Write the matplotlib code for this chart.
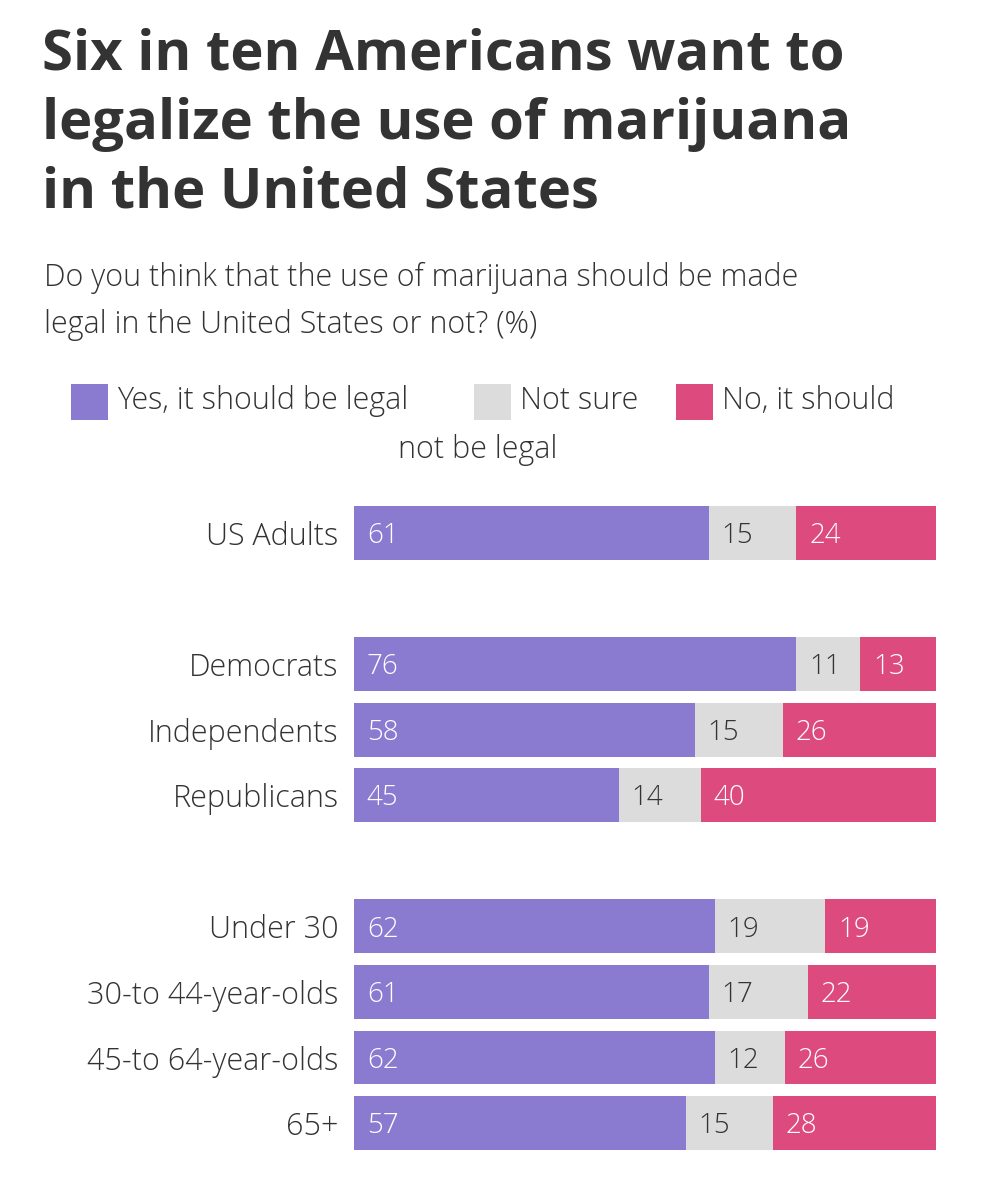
import matplotlib
matplotlib.use("Agg")
import matplotlib.pyplot as plt
from matplotlib.patches import Rectangle

categories = ["US Adults", "Democrats", "Independents", "Republicans",
              "Under 30", "30-to 44-year-olds", "45-to 64-year-olds", "65+"]
yes_vals = [61, 76, 58, 45, 62, 61, 62, 57]
notsure_vals = [15, 11, 15, 14, 19, 17, 12, 15]
no_vals = [24, 13, 26, 40, 19, 22, 26, 28]
row_pos = [0, 2, 3, 4, 6, 7, 8, 9]
series_names = ["Yes, it should be legal", "Not sure", "No, it should"]

C_YES = "#8a7bd1"
C_NS = "#dcdcdc"
C_NO = "#dc4a7e"
TXT = "#333333"
FONT = ["Open Sans", "DejaVu Sans"]

W, H = 983, 1200
fig = plt.figure(figsize=(W / 100, H / 100), dpi=100)
fig.patch.set_facecolor("white")

def fx(x):
    return x / W

def fy(y):
    return 1 - y / H

# Title
title_lines = ["Six in ten Americans want to", "legalize the use of marijuana", "in the United States"]
for i, line in enumerate(title_lines):
    fig.text(fx(42), fy(55 + i * 69), line, fontsize=40.5, fontweight="bold",
             color=TXT, family=FONT, va="center", ha="left")

# Subtitle
sub_lines = ["Do you think that the use of marijuana should be made",
             "legal in the United States or not? (%)"]
for i, line in enumerate(sub_lines):
    fig.text(fx(44), fy(278 + i * 47), line, fontsize=22, color=TXT,
             family=FONT, va="center", ha="left", fontweight="light")

# Legend
leg_items = [(71, C_YES, series_names[0]), (474, C_NS, series_names[1]), (676, C_NO, series_names[2])]
for x0, col, lab in leg_items:
    fig.patches.append(Rectangle((fx(x0), fy(420)), fx(37), 36 / H, transform=fig.transFigure,
                                 facecolor=col, edgecolor="none"))
    fig.text(fx(x0 + 46), fy(401), lab, fontsize=22, color=TXT, family=FONT,
             va="center", ha="left", fontweight="light")
fig.text(fx(478), fy(450), "not be legal", fontsize=22, color=TXT, family=FONT,
         va="center", ha="center", fontweight="light")

# Bars
ax = fig.add_axes([354 / W, 50 / H, 582 / W, 644 / H])
bh = 0.82
for i, y in enumerate(row_pos):
    tot = yes_vals[i] + notsure_vals[i] + no_vals[i]
    vals = [yes_vals[i], notsure_vals[i], no_vals[i]]
    cols = [C_YES, C_NS, C_NO]
    tcols = ["white", TXT, "white"]
    left = 0
    for v, c, tc in zip(vals, cols, tcols):
        w = v / tot * 100
        ax.barh(y, w, left=left, height=bh, color=c, edgecolor="none")
        ax.text(left + 2.2, y + 0.05, str(v), color=tc, fontsize=20, family=FONT,
                va="center", ha="left", fontweight="light")
        left += w

ax.set_xlim(0, 100)
ax.set_ylim(9 + bh / 2, -bh / 2)
ax.set_yticks(row_pos)
ax.set_yticklabels(categories, fontsize=22, color=TXT, family=FONT, fontweight="light")
ax.tick_params(axis="y", length=0, pad=11)
ax.set_xticks([])
for s in ax.spines.values():
    s.set_visible(False)

fig.savefig("out.png", dpi=100, facecolor="white")
